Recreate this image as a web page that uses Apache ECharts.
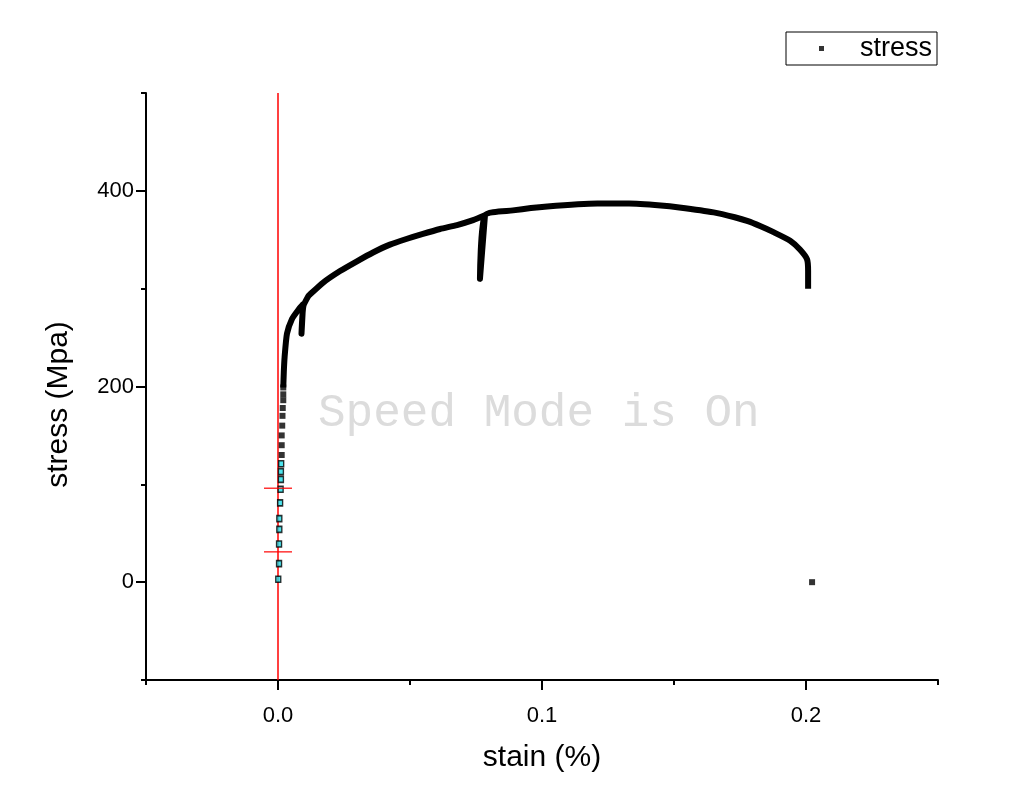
<!DOCTYPE html>
<html>
<head>
<meta charset="utf-8">
<script src="https://cdn.jsdelivr.net/npm/echarts@6/dist/echarts.min.js"></script>
<style>html,body{margin:0;padding:0;background:#fff;}#chart{width:1021px;height:803px;}</style>
</head>
<body>
<div id="chart"></div>
<script>
// ---- data ----
const curveStrain = [0.0020, 0.0022, 0.0025, 0.0034, 0.0053, 0.0076, 0.0095, 0.0089, 0.0096, 0.0114, 0.0121, 0.0170, 0.0235, 0.0299, 0.0360, 0.0424, 0.0489, 0.0549, 0.0614, 0.0678, 0.0739, 0.0784, 0.0765, 0.0784, 0.0890, 0.1020, 0.1210, 0.1330, 0.1450, 0.1520, 0.1650, 0.1730, 0.1780, 0.1826, 0.1875, 0.1940, 0.1977, 0.2004, 0.2008, 0.2008];
const curveStress = [199, 215, 230, 254, 269, 278, 284, 254, 282, 292, 294, 306, 318, 328, 337, 345, 351, 356, 361, 365, 370, 375, 310, 375, 380, 384, 387, 387, 385, 383, 378, 373, 369, 364, 358, 349, 340, 330, 318, 300];
const dotStrain = [0.0020, 0.0020, 0.0020, 0.0018, 0.0017, 0.0016, 0.0014, 0.0014, 0.0014, 0.2023];
const dotStress = [199, 192, 186, 178, 170, 160, 150, 140, 130, 0];
const selStrain = [0.0012, 0.0011, 0.0011, 0.0010, 0.0008, 0.0005, 0.0005, 0.0004, 0.0004, 0.0001];
const selStress = [121, 113, 105, 95, 81, 65, 54, 39, 19, 3];
const cursorStrain = [0, 0];
const cursorStress = [96, 31];
const xMajor = [0, 0.1, 0.2];
const xMinor = [-0.05, 0.05, 0.15, 0.25];
const yMajor = [0, 200, 400];
const yMinor = [-100, 100, 300, 500];

const zip = (a, b) => a.map((v, i) => [v, b[i]]);
const FF = '"Liberation Sans", Arial, sans-serif';

const chart = echarts.init(document.getElementById('chart'), null, {renderer: 'canvas'});
const axisCommon = {
  type: 'value',
  splitLine: {show: false},
  axisLine: {onZero: false, lineStyle: {color: '#000', width: 2}}
};
chart.setOption({
  animation: false,
  backgroundColor: '#fff',
  textStyle: {fontFamily: FF},
  grid: {left: 146, right: 83, top: 93, bottom: 123, containLabel: false},
  legend: {
    data: ['stress'], left: 786, top: 32, icon: 'rect', itemWidth: 5, itemHeight: 5,
    padding: [3, 5, 3, 33], borderColor: '#000', borderWidth: 1, itemGap: 0,
    textStyle: {fontSize: 27, fontFamily: FF, color: '#000', padding: [0, 0, 0, 31]}
  },
  graphic: [{
    type: 'text', left: 318, top: 391, silent: true, z: 0,
    style: {text: 'Speed Mode is On', fontFamily: '"Liberation Mono", "DejaVu Sans Mono", monospace', fontSize: 46, fill: '#dcdcdc'}
  }],
  xAxis: [
    Object.assign({}, axisCommon, {
      min: -0.05, max: 0.25, interval: 0.05,
      axisTick: {customValues: xMajor, length: 10, lineStyle: {color: '#000', width: 2}},
      axisLabel: {customValues: xMajor, formatter: v => v.toFixed(1), fontSize: 22, color: '#000', margin: 25, fontFamily: FF},
      name: 'stain (%)', nameLocation: 'middle', nameGap: 63,
      nameTextStyle: {fontSize: 30, color: '#000', fontFamily: FF}
    }),
    Object.assign({}, axisCommon, {
      min: -0.05, max: 0.25, interval: 0.05, position: 'bottom',
      axisLine: {show: false, onZero: false},
      axisTick: {customValues: xMinor, length: 5, lineStyle: {color: '#000', width: 2}},
      axisLabel: {show: false}
    })
  ],
  yAxis: [
    Object.assign({}, axisCommon, {
      min: -100, max: 500, interval: 100,
      axisTick: {customValues: yMajor, length: 10, lineStyle: {color: '#000', width: 2}},
      axisLabel: {customValues: yMajor, fontSize: 22, color: '#000', margin: 12, fontFamily: FF},
      name: 'stress (Mpa)', nameLocation: 'middle', nameGap: 72,
      nameTextStyle: {fontSize: 30, color: '#000', fontFamily: FF, padding: [0, 36, 0, 0]}
    }),
    Object.assign({}, axisCommon, {
      min: -100, max: 500, interval: 100, position: 'left',
      axisLine: {show: false, onZero: false},
      axisTick: {customValues: yMinor, length: 5, lineStyle: {color: '#000', width: 2}},
      axisLabel: {show: false}
    })
  ],
  series: [
    {
      name: 'stress', type: 'scatter', symbol: 'rect', symbolSize: 6,
      itemStyle: {color: '#000'}, data: zip(dotStrain, dotStress), z: 3
    },
    {
      name: 'stress', type: 'line', showSymbol: false, symbol: 'none', smooth: 0.2,
      lineStyle: {color: '#000', width: 6, join: 'round', cap: 'butt'},
      data: zip(curveStrain, curveStress), z: 3,
      markLine: {
        symbol: 'none', silent: true, label: {show: false}, z: 2,
        lineStyle: {color: '#ff0000', width: 1.5, type: 'solid'},
        data: [{xAxis: 0}]
      }
    },
    {
      name: 'selected', type: 'scatter', symbol: 'rect', symbolSize: [5, 6],
      itemStyle: {color: '#22dde8', borderColor: '#000', borderWidth: 1.5},
      data: zip(selStrain, selStress), z: 4
    },
    {
      name: 'cursor', type: 'scatter', symbol: 'rect', symbolSize: [28, 1.5],
      itemStyle: {color: '#ff0000'}, data: zip(cursorStrain, cursorStress), z: 5
    }
  ]
});
</script>
</body>
</html>
